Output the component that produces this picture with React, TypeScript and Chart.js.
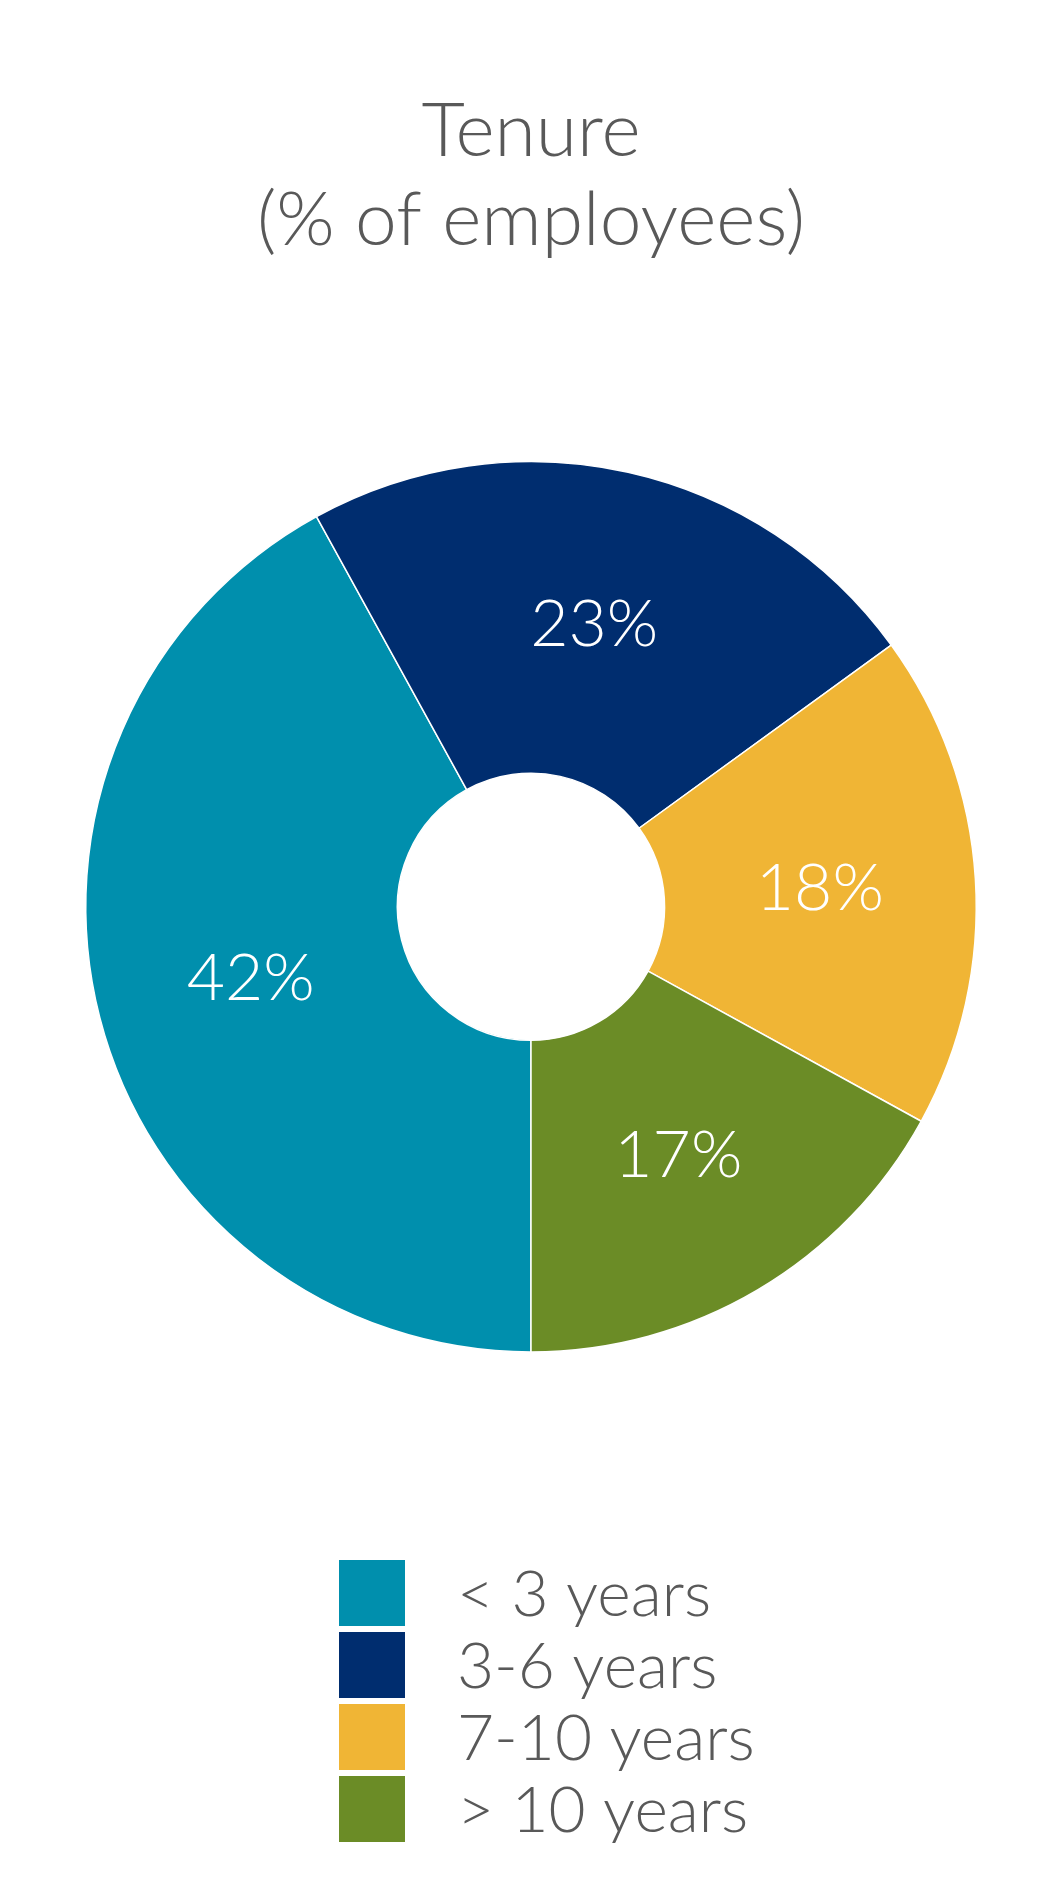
import React, { useEffect, useRef } from 'react';
import { Chart, registerables } from 'chart.js';

Chart.register(...registerables);

const categories = ['< 3 years', '3-6 years', '7-10 years', '> 10 years'];
const values = [42, 23, 18, 17];
const colors = ['#008FAD', '#002D6F', '#F0B535', '#6B8C26'];
const titleLines = ['Tenure', '(% of employees)'];

const FONT = 'Lato';
const TEXT_COLOR = '#595959';

const sliceLabels = {
  id: 'sliceLabels',
  afterDatasetsDraw(chart: any) {
    const ctx = chart.ctx;
    const meta = chart.getDatasetMeta(0);
    ctx.save();
    ctx.fillStyle = '#ffffff';
    ctx.font = `300 66px ${FONT}`;
    ctx.textAlign = 'center';
    ctx.textBaseline = 'middle';
    meta.data.forEach((arc: any, i: number) => {
      const p = arc.tooltipPosition();
      ctx.fillText(chart.data.datasets[0].data[i] + '%', p.x, p.y);
    });
    ctx.restore();
  },
};

const boxLegend = {
  id: 'boxLegend',
  afterDraw(chart: any) {
    const ctx = chart.ctx;
    const ds = chart.data.datasets[0];
    const x0 = 339;
    const y0 = 1560;
    const size = 66;
    const step = 72;
    const textX = 457;
    const fontSize = 64;
    ctx.save();
    ctx.font = `300 ${fontSize}px ${FONT}`;
    ctx.textAlign = 'left';
    ctx.textBaseline = 'alphabetic';
    chart.data.labels.forEach((label: string, i: number) => {
      const y = y0 + i * step;
      ctx.fillStyle = ds.backgroundColor[i];
      ctx.fillRect(x0, y, size, size);
      ctx.fillStyle = TEXT_COLOR;
      ctx.fillText(label, textX, y + size / 2 + fontSize * 0.36);
    });
    ctx.restore();
  },
};

export default function App() {
  const ref = useRef<HTMLCanvasElement | null>(null);

  useEffect(() => {
    if (!ref.current) return;
    const chart = new Chart(ref.current, {
      type: 'doughnut',
      data: {
        labels: categories,
        datasets: [
          {
            data: values,
            backgroundColor: colors,
            borderColor: '#ffffff',
            borderWidth: 1.5,
          },
        ],
      },
      options: {
        responsive: false,
        animation: false,
        rotation: 180,
        cutout: '30%',
        layout: { padding: { left: 85, right: 85, top: 0, bottom: 543 } },
        plugins: {
          legend: { display: false },
          tooltip: { enabled: false },
          title: {
            display: true,
            text: titleLines,
            color: TEXT_COLOR,
            font: { family: FONT, size: 75, weight: '300' as any, lineHeight: 1.19 },
            padding: { top: 87, bottom: 195 },
          },
        },
      },
      plugins: [sliceLabels, boxLegend],
    });
    return () => chart.destroy();
  }, []);

  return (
    <div style={{ position: 'absolute', left: 0, top: 0, width: 1062, height: 1896, background: '#ffffff' }}>
      <canvas ref={ref} width={1062} height={1896} style={{ display: 'block' }} />
    </div>
  );
}
